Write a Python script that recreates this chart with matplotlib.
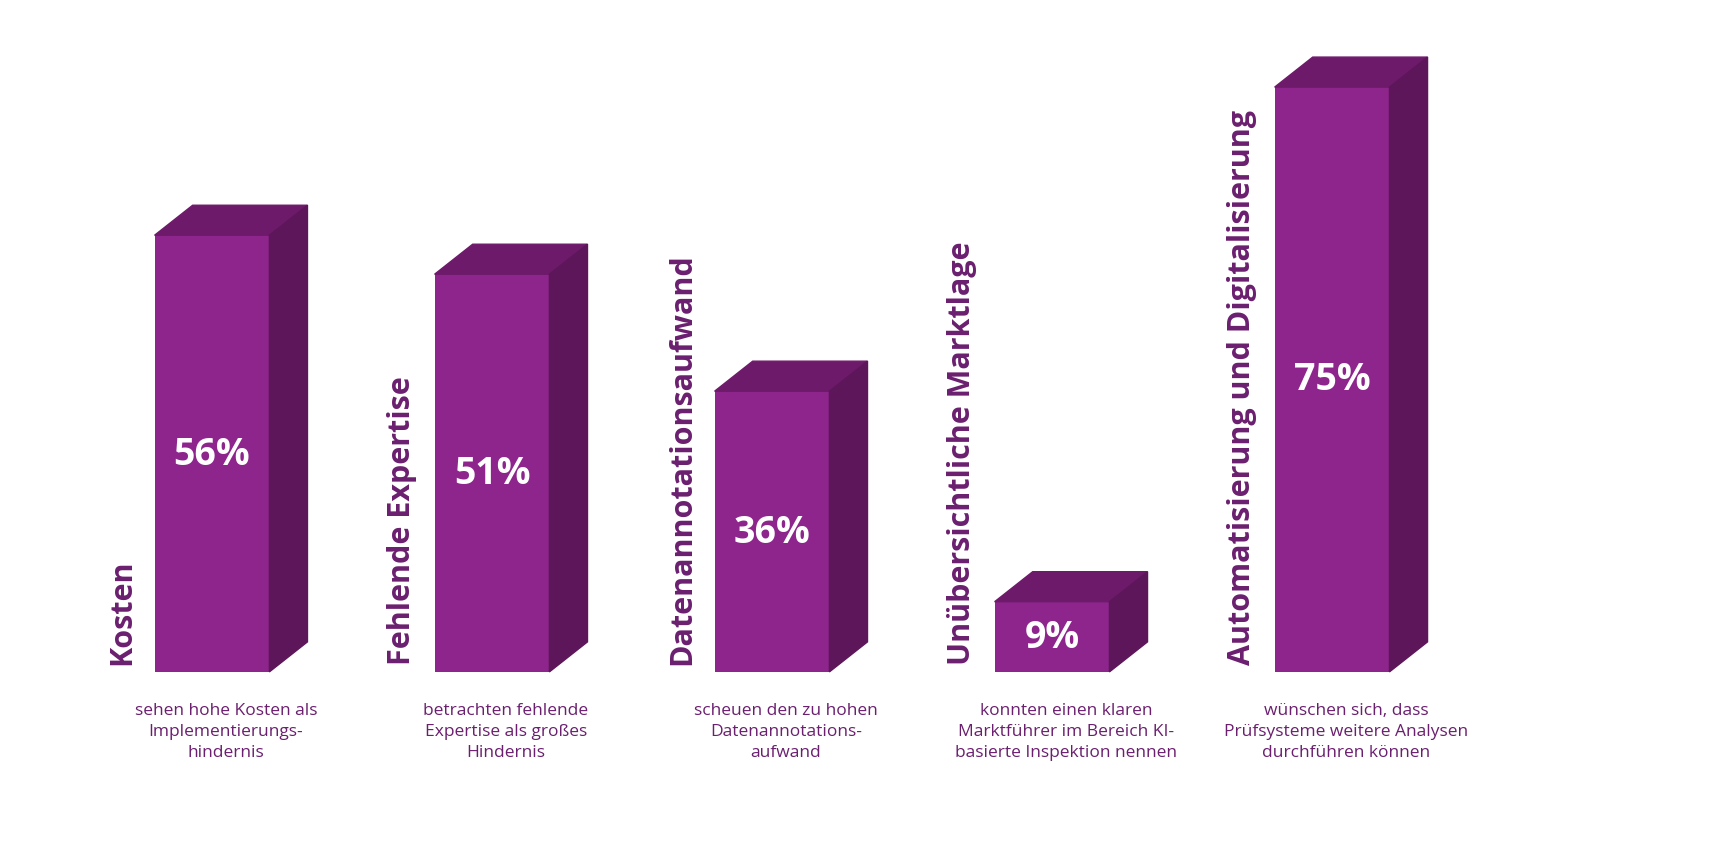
import matplotlib
matplotlib.use("Agg")
import matplotlib.pyplot as plt
from matplotlib.patches import Polygon

categories = ["Kosten", "Fehlende Expertise", "Datenannotationsaufwand",
              "Unübersichtliche Marktlage", "Automatisierung und Digitalisierung"]
values = [56, 51, 36, 9, 75]
captions = [
    "sehen hohe Kosten als\nImplementierungs-\nhindernis",
    "betrachten fehlende\nExpertise als großes\nHindernis",
    "scheuen den zu hohen\nDatenannotations-\naufwand",
    "konnten einen klaren\nMarktführer im Bereich KI-\nbasierte Inspektion nennen",
    "wünschen sich, dass\nPrüfsysteme weitere Analysen\ndurchführen können",
]

front = "#8E258D"
top_c = "#6E1A6B"
side_c = "#5C1659"
text_c = "#6B1F6F"

plt.rcParams["font.family"] = ["Open Sans", "DejaVu Sans"]

fig = plt.figure(figsize=(17.14, 8.53), dpi=100)
ax = fig.add_axes([0, 0, 1, 1])
ax.set_xlim(-0.757, 5.364)
ax.set_ylim(-23.1, 86.3)
ax.axis("off")

w = 0.41
dx, dy = 0.136, 3.85
x = list(range(len(values)))

ax.bar(x, values, width=w, color=front, zorder=2)
for i, v in zip(x, values):
    l, r = i - w / 2, i + w / 2
    ax.add_patch(Polygon([(l, v), (r, v), (r + dx, v + dy), (l + dx, v + dy)],
                         color=top_c, zorder=2))
    ax.add_patch(Polygon([(r, 0), (r + dx, dy), (r + dx, v + dy), (r, v)],
                         color=side_c, zorder=2))
    ax.text(i, v / 2, f"{v}%", color="white", fontsize=27, fontweight="bold",
            ha="center", va="center", zorder=3)
    ax.text(l - 0.115, 1, categories[i], rotation=90, color=text_c, fontsize=22,
            fontweight="bold", ha="center", va="bottom", zorder=3)
    ax.text(i + 0.05, -3.8, captions[i], color=text_c, fontsize=12.5,
            ha="center", va="top", linespacing=1.45)

fig.savefig("out.png", dpi=100)
